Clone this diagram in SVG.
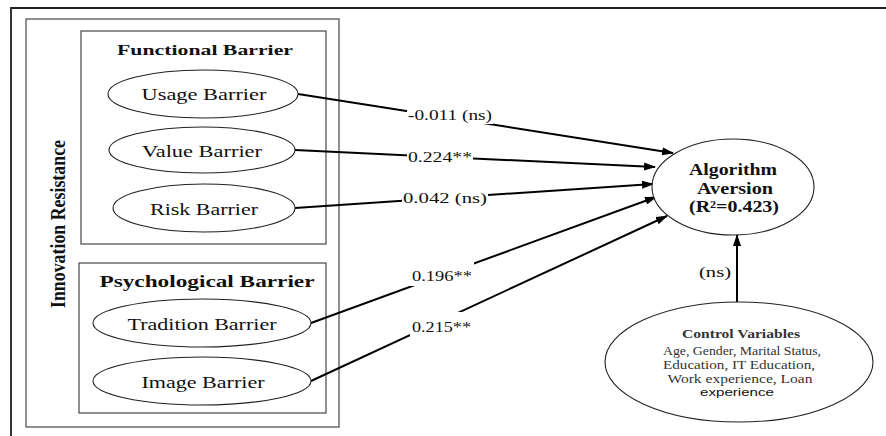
<svg xmlns="http://www.w3.org/2000/svg" width="886" height="436" viewBox="0 0 886 436">
<defs>
<marker id="ah" markerWidth="12" markerHeight="8" refX="11" refY="4" orient="auto" markerUnits="userSpaceOnUse">
<path d="M0,0 L12,4 L0,8 Z" fill="#000"/>
</marker>
<style>
.box{fill:none;stroke:#555;stroke-width:1.3}
.frame{fill:none;stroke:#222;stroke-width:1.8}
.ell{fill:#fff;stroke:#222;stroke-width:1.1}
.t{font-family:"Liberation Serif","Times New Roman",serif;fill:#111;text-anchor:middle}
.b{font-weight:bold}
.lbl{font-family:"Liberation Serif","Times New Roman",serif;font-size:15px;fill:#111}
.cv{font-family:"Liberation Serif","Times New Roman",serif;font-size:12px;fill:#333;text-anchor:middle}
.cvs{font-family:"Liberation Sans",Arial,sans-serif;font-size:11px;fill:#111;text-anchor:middle}
.con{stroke:#000;stroke-width:2;fill:none}
.bg{fill:#fff}
</style>
</defs>
<rect width="886" height="436" fill="#fff"/>
<g id="frame">
<path class="frame" d="M11,436 V8 H886"/>
</g>
<g id="innovation-resistance">
<rect class="box" x="26" y="19" width="313" height="408"/>
<text class="t b" transform="translate(65,224) rotate(-90)" font-size="21" textLength="168" lengthAdjust="spacingAndGlyphs">Innovation Resistance</text>
</g>
<g id="functional-barrier">
<rect class="box" x="81" y="31" width="245" height="213"/>
<text class="t b" x="205" y="55" font-size="15" textLength="176" lengthAdjust="spacingAndGlyphs">Functional Barrier</text>
</g>
<g id="psychological-barrier">
<rect class="box" x="79" y="263" width="247" height="150"/>
<text class="t b" x="207" y="287" font-size="16" textLength="215" lengthAdjust="spacingAndGlyphs">Psychological Barrier</text>
</g>
<g id="connectors">
<line class="con" x1="298" y1="94" x2="673" y2="153" marker-end="url(#ah)"/>
<line class="con" x1="295" y1="150" x2="655" y2="167" marker-end="url(#ah)"/>
<line class="con" x1="295" y1="208" x2="653" y2="184" marker-end="url(#ah)"/>
<line class="con" x1="311" y1="323" x2="656" y2="197" marker-end="url(#ah)"/>
<line class="con" x1="311" y1="381" x2="667" y2="216" marker-end="url(#ah)"/>
<line class="con" x1="737" y1="302" x2="737" y2="235" marker-end="url(#ah)"/>
<rect class="bg" x="407" y="106" width="86" height="18"/>
<text class="lbl" x="408" y="120" textLength="84" lengthAdjust="spacingAndGlyphs">-0.011 (ns)</text>
<rect class="bg" x="407" y="149" width="66" height="17"/>
<text class="lbl" x="408" y="162" textLength="64" lengthAdjust="spacingAndGlyphs">0.224**</text>
<rect class="bg" x="402" y="189" width="86" height="18"/>
<text class="lbl" x="403" y="203" textLength="84" lengthAdjust="spacingAndGlyphs">0.042 (ns)</text>
<rect class="bg" x="410" y="262" width="64" height="24"/>
<text class="lbl" x="412" y="281" textLength="60" lengthAdjust="spacingAndGlyphs">0.196**</text>
<rect class="bg" x="410" y="312" width="56" height="24"/>
<text class="lbl" x="412" y="332" textLength="59" lengthAdjust="spacingAndGlyphs">0.215**</text>
<text class="lbl" x="699" y="277" textLength="32" lengthAdjust="spacingAndGlyphs">(ns)</text>
</g>
<g id="usage-barrier">
<ellipse class="ell" cx="203" cy="94" rx="95" ry="24"/>
<text class="t" x="204" y="100" font-size="16" textLength="125" lengthAdjust="spacingAndGlyphs">Usage Barrier</text>
</g>
<g id="value-barrier">
<ellipse class="ell" cx="202" cy="150" rx="93" ry="23"/>
<text class="t" x="202" y="157" font-size="16" textLength="120" lengthAdjust="spacingAndGlyphs">Value Barrier</text>
</g>
<g id="risk-barrier">
<ellipse class="ell" cx="204" cy="208" rx="91" ry="24"/>
<text class="t" x="204" y="215" font-size="16" textLength="108" lengthAdjust="spacingAndGlyphs">Risk Barrier</text>
</g>
<g id="tradition-barrier">
<ellipse class="ell" cx="202" cy="323" rx="109" ry="24"/>
<text class="t" x="202" y="330" font-size="16" textLength="149" lengthAdjust="spacingAndGlyphs">Tradition Barrier</text>
</g>
<g id="image-barrier">
<ellipse class="ell" cx="202" cy="381" rx="109" ry="24"/>
<text class="t" x="203" y="388" font-size="16" textLength="123" lengthAdjust="spacingAndGlyphs">Image Barrier</text>
</g>
<g id="algorithm-aversion">
<ellipse class="ell" cx="733" cy="187" rx="81" ry="48"/>
<text class="t b" x="733" y="175" font-size="16" textLength="88" lengthAdjust="spacingAndGlyphs">Algorithm</text>
<text class="t b" x="735" y="194" font-size="16" textLength="76" lengthAdjust="spacingAndGlyphs">Aversion</text>
<text class="t b" x="734" y="212" font-size="16" textLength="90" lengthAdjust="spacingAndGlyphs">(R²=0.423)</text>
</g>
<g id="control-variables">
<ellipse class="ell" cx="739" cy="362" rx="134" ry="60"/>
<text class="cv" x="741" y="338" font-weight="bold" textLength="118" lengthAdjust="spacingAndGlyphs">Control Variables</text>
<text class="cv" x="742" y="355" textLength="158" lengthAdjust="spacingAndGlyphs">Age, Gender, Marital Status,</text>
<text class="cv" x="739" y="369" textLength="152" lengthAdjust="spacingAndGlyphs">Education, IT Education,</text>
<text class="cv" x="740" y="383" textLength="145" lengthAdjust="spacingAndGlyphs">Work experience, Loan</text>
<text class="cvs" x="737" y="396" textLength="74" lengthAdjust="spacingAndGlyphs">experience</text>
</g>
</svg>
